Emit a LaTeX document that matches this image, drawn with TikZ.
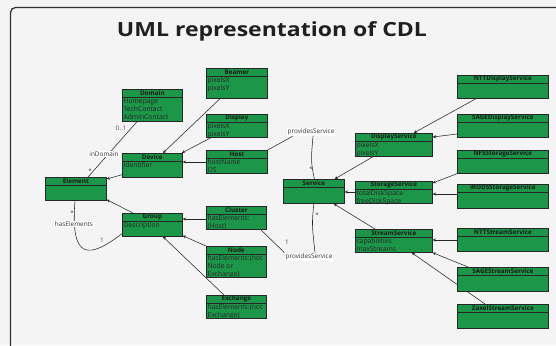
\documentclass[tikz,border=0pt]{standalone}
\usepackage{fontspec}
\setmainfont{Open Sans}
\newfontfamily\titlefont[FakeStretch=1.18]{Open Sans}
\usetikzlibrary{calc,arrows.meta}
\pgfdeclarelayer{backmost}
\pgfdeclarelayer{background}
\pgfsetlayers{backmost,background,main}
\definecolor{umlgreen}{RGB}{28,150,72}
\definecolor{pagebg}{RGB}{244,244,244}
\definecolor{framec}{RGB}{51,51,51}
\tikzset{
 clsbox/.style={draw=black!85, line width=0.7pt, fill=umlgreen, rectangle, inner sep=0pt},
 clssep/.style={draw=black!85, line width=0.7pt},
 clstitle/.style={font=\fontsize{6.3}{8}\selectfont\bfseries, text=black!90, inner sep=0pt},
 clsattr/.style={font=\fontsize{6.8}{8}\selectfont, text=black!85, align=left, inner xsep=1.3pt, inner ysep=1.0pt},
 conn/.style={draw=black!85, line width=0.55pt},
 gen/.style={conn, -{Stealth[length=3.2pt,width=3pt]}},
 role/.style={font=\fontsize{6.4}{8}\selectfont, fill=white, text=black!80, inner sep=1pt},
 mult/.style={font=\fontsize{6.3}{8}\selectfont, text=black!70, inner sep=0.5pt},
}
\newcommand\umlcls[7]{%
 \node[clsbox, minimum width=#4pt, minimum height=#5pt, anchor=north west] (#1) at (#2,#3) {};
 \draw[clssep] ($(#1.north west)+(0,8)$) -- ($(#1.north east)+(0,8)$);
 \node[clstitle] at ($(#1.north)+(0,4)$) {#6};
 \node[clsattr, anchor=north west] at ($(#1.north west)+(0,8)$) {#7};
}
\begin{document}
\begin{tikzpicture}[x=1pt,y=-1pt]
\useasboundingbox (0,0) rectangle (556,345);
\begin{pgfonlayer}{backmost}
 \fill[pagebg] (0,0) rectangle (556,345);
 \draw[framec, line width=1.3pt, rounded corners=5pt] (10.5,352) -- (10.5,7.5) -- (565,7.5);
\end{pgfonlayer}
\node[font=\titlefont\fontsize{19.5}{22}\selectfont\bfseries, text=black!88, anchor=base, inner sep=0pt] (title) at (272,36.7) {UML representation of CDL};

\umlcls{Domain}{122}{89}{60}{32}{Domain}{Homepage\\TechContact\\AdminContact}
\umlcls{Device}{122}{153}{60}{24}{Device}{Identifier}
\umlcls{Element}{45}{177}{61}{23}{Element}{}
\umlcls{Group}{122}{213}{60}{23}{Group}{Description}
\umlcls{Beamer}{206}{68}{61}{30}{Beamer}{pixelsX\\pixelsY}
\umlcls{Display}{206}{114}{61}{23}{Display}{pixelsX\\pixelsY}
\umlcls{Host}{206}{150}{61}{23}{Host}{hostName\\OS}
\umlcls{Cluster}{206}{206}{60}{23}{Cluster}{hasElements:\\(Host)}
\umlcls{Node}{206}{246}{60}{31}{Node}{hasElements:(not\\Node or\\Exchange)}
\umlcls{Exchange}{206}{295}{60}{23}{Exchange}{hasElements:(not\\Exchange)}
\umlcls{Service}{283}{179}{61}{24}{Service}{}
\umlcls{DisplayService}{355}{133}{77}{23}{DisplayService}{pixelsX\\pixelsY}
\umlcls{StorageService}{355}{181}{77}{22}{StorageService}{totalDiskSpace\\freeDiskSpace}
\umlcls{StreamService}{355}{229}{77}{23}{StreamService}{capabilities\\maxStreams}
\umlcls{NTTDisplayService}{457}{75}{91}{23}{NTTDisplayService}{}
\umlcls{SAGEDisplayService}{457}{114}{91}{23}{SAGEDisplayService}{}
\umlcls{NFSStorageService}{457}{150}{91}{23}{NFSStorageService}{}
\umlcls{iRODSStorageService}{457}{184}{91}{24}{iRODSStorageService}{}
\umlcls{NTTStreamService}{457}{228}{91}{23}{NTTStreamService}{}
\umlcls{SAGEStreamService}{457}{267}{91}{24}{SAGEStreamService}{}
\umlcls{ZaxelStreamService}{457}{304}{91}{24}{ZaxelStreamService}{}

% role labels
\node[role] (inDomain) at (104,154) {inDomain};
\node[role] (hasEl) at (74,224) {hasElements};
\node[role] (pS1) at (311,132) {providesService};
\node[role] (pS2) at (309,257) {providesService};
% multiplicities
\node[mult] (m01) at (121,128) {0..1};
\node[mult] (mE) at (90,171.5) {*};
\node[mult] (mH) at (72,213) {*};
\node[mult] (m1g) at (102,240) {1};
\node[mult] (mS1) at (311,169) {*};
\node[mult] (mS2) at (317,215.5) {*};
\node[mult] (m1c) at (287,242) {1};

\begin{pgfonlayer}{background}
 \draw[conn] ($(Domain.south west)+(15,0)$) -- ($(Element.north west)+(43,0)$);
 \draw[gen] ($(Device.south west)+(0,-3)$) -- ($(Element.north east)+(0,2)$);
 \draw[gen] ($(Group.north west)+(11,0)$) -- ($(Element.south east)+(0,-1)$);
 \draw[conn] ($(Element.south west)+(30,0)$) .. controls (70,262) and (90,258) .. ($(Group.south west)+(0,-3)$);
 \draw[gen] ($(Beamer.south west)+(14,0)$) -- ($(Device.north west)+(41,0)$);
 \draw[gen] ($(Display.south west)+(5,0)$) -- ($(Device.north east)+(-1,0)$);
 \draw[gen] ($(Host.north west)+(0,12)$) -- ($(Device.north east)+(0,9)$);
 \draw[gen] ($(Cluster.north west)+(0,13)$) -- ($(Group.north east)+(0,6)$);
 \draw[gen] (Node.north west) -- ($(Group.south east)+(0,-1)$);
 \draw[gen] ($(Exchange.north west)+(18,0)$) -- ($(Group.south west)+(41,0)$);
 \draw[conn] (Host.north east) -- ($(pS1.south west)+(6,0)$);
 \draw[conn] ($(pS1.south)+(2,0)$) .. controls ($(Service.north)+(-3,-18)$) .. ($(Service.north)+(0.5,0)$);
 \draw[conn] ($(Cluster.south east)+(-6,0)$) -- (pS2.north west);
 \draw[conn] ($(pS2.north)+(6,0)$) .. controls ($(Service.south)+(-2,20)$) .. (Service.south);
 \draw[gen] ($(DisplayService.south west)+(18,0)$) -- ($(Service.north east)+(-10,0)$);
 \draw[gen] ($(StorageService.north west)+(0,11)$) -- ($(Service.north east)+(0,13)$);
 \draw[gen] ($(StreamService.north west)+(20,0)$) -- ($(Service.south east)+(-11,0)$);
 \draw[gen] ($(NTTDisplayService.south west)+(19,0)$) -- ($(DisplayService.north east)+(-19,0)$);
 \draw[gen] ($(SAGEDisplayService.north west)+(0,20)$) -- ($(DisplayService.north east)+(0,4)$);
 \draw[gen] (NFSStorageService.south west) -- ($(StorageService.north east)+(0,2)$);
 \draw[gen] ($(iRODSStorageService.north west)+(0,10)$) -- ($(StorageService.north east)+(0,13)$);
 \draw[gen] ($(NTTStreamService.north west)+(0,12)$) -- ($(StreamService.north east)+(0,11)$);
 \draw[gen] ($(SAGEStreamService.north west)+(11,0)$) -- (StreamService.south east);
 \draw[gen] ($(ZaxelStreamService.north west)+(28,0)$) -- ($(StreamService.south east)+(-21,0)$);
\end{pgfonlayer}
\end{tikzpicture}
\end{document}
